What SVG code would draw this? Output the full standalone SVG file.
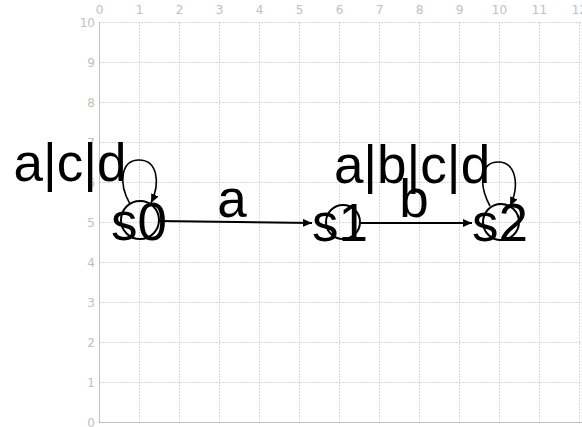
<svg xmlns="http://www.w3.org/2000/svg" width="582" height="427" viewBox="0 0 582 427">
<style>
.g{stroke:#b4b4b4;stroke-width:1;stroke-dasharray:1,2;fill:none}
.ax{stroke:#808080;stroke-width:1;stroke-dasharray:1,1;fill:none}
.tk{font-family:"DejaVu Sans",sans-serif;font-size:12px;fill:#c0c0c0}
.node circle{fill:none;stroke:#000;stroke-width:2}
.big{font-family:"Liberation Sans",Arial,sans-serif;font-size:53px;fill:#000}
.edge{fill:none;stroke:#000;stroke-width:2}
.loop{fill:none;stroke:#000;stroke-width:1.6}
</style>
<defs>
<marker id="ah" markerUnits="userSpaceOnUse" markerWidth="10" markerHeight="8" refX="9" refY="4" orient="auto">
<path d="M0,0 L9,4 L0,8 z" fill="#000"/>
</marker>
</defs>
<rect width="582" height="427" fill="#fff"/>
<g id="grid">
<path class="g" d="M139.5,22.5V423 M179.5,22.5V423 M219.5,22.5V423 M259.5,22.5V423 M299.5,22.5V423 M339.5,22.5V423 M379.5,22.5V423 M419.5,22.5V423 M459.5,22.5V423 M499.5,22.5V423 M539.5,22.5V423 M579.5,22.5V423"/>
<path class="g" d="M99.5,22.5H582 M99.5,62.5H582 M99.5,102.5H582 M99.5,142.5H582 M99.5,182.5H582 M99.5,222.5H582 M99.5,262.5H582 M99.5,302.5H582 M99.5,342.5H582 M99.5,382.5H582"/>
<path class="ax" d="M99.5,22.5V423 M99.5,422.5H582"/>
<g class="tk" text-anchor="middle">
<text x="99.5" y="14">0</text><text x="139.5" y="14">1</text><text x="179.5" y="14">2</text><text x="219.5" y="14">3</text><text x="259.5" y="14">4</text><text x="299.5" y="14">5</text><text x="339.5" y="14">6</text><text x="379.5" y="14">7</text><text x="419.5" y="14">8</text><text x="459.5" y="14">9</text><text x="499.5" y="14">10</text><text x="539.5" y="14">11</text><text x="579.5" y="14">12</text>
</g>
<g class="tk" text-anchor="end">
<text x="95" y="27">10</text><text x="95" y="67">9</text><text x="95" y="107">8</text><text x="95" y="147">7</text><text x="95" y="187">6</text><text x="95" y="227">5</text><text x="95" y="267">4</text><text x="95" y="307">3</text><text x="95" y="347">2</text><text x="95" y="387">1</text><text x="95" y="427">0</text>
</g>
</g>
<g id="connectors">
<path class="edge" d="M159,221 L312,223" marker-end="url(#ah)"/>
<path class="edge" d="M359,223 L472,223" marker-end="url(#ah)"/>
<path class="loop" d="M130,204 C118,183 121,160 139,160 C157,160 161,182 151,203" marker-end="url(#ah)"/>
<path class="loop" d="M490,206 C478,184 481,162 498,162 C516,162 520,185 510,206" marker-end="url(#ah)"/>
<text class="big" x="70" y="181" text-anchor="middle">a|c|d</text>
<text class="big" x="232" y="217" text-anchor="middle">a</text>
<text class="big" x="414" y="217" text-anchor="middle">b</text>
<text class="big" x="412" y="183" text-anchor="middle">a|b|c|d</text>
</g>
<g id="s0" class="node">
<circle cx="140" cy="220" r="19"/>
<text class="big" x="139" y="240" text-anchor="middle">s0</text>
</g>
<g id="s1" class="node">
<circle cx="343" cy="222" r="17"/>
<text class="big" x="340" y="241" text-anchor="middle">s1</text>
</g>
<g id="s2" class="node">
<circle cx="501" cy="222" r="18"/>
<text class="big" x="500" y="241" text-anchor="middle">s2</text>
</g>
</svg>
